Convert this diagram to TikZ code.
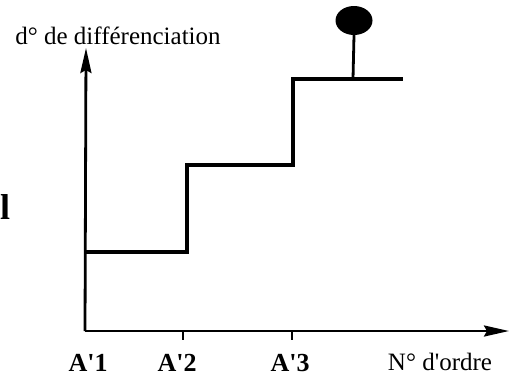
\documentclass[tikz,border=0pt]{standalone}
\usepackage{fontspec}
\setmainfont{Liberation Serif}[Ligatures=TeXOff]
\usetikzlibrary{arrows.meta,shapes.geometric}
\begin{document}
\begin{tikzpicture}[x=1pt,y=-1pt,
  axis/.style={line width=2.8pt,-{Stealth[length=25pt,width=11pt,inset=3pt]}},
  stair/.style={line width=3.3pt,line join=miter},
  tick/.style={line width=2.2pt},
  lbl/.style={font=\fontsize{25}{28}\selectfont,inner sep=0pt},
  blbl/.style={font=\bfseries\fontsize{26}{29}\selectfont,inner sep=0pt}]
\useasboundingbox (0,0) rectangle (516,381);
\coordinate (O) at (85,331);
\coordinate (ytop) at (86,48);
\coordinate (xend) at (509,331);
\draw[axis] (O) -- (ytop);
\draw[axis] (O) -- (xend);
\coordinate (t2) at (183,340);
\coordinate (t2b) at (183,331);
\coordinate (t3) at (292,340);
\coordinate (t3b) at (292,331);
\draw[tick] (t2b) -- (t2);
\draw[tick] (t3b) -- (t3);
\coordinate (s0) at (85,252);
\coordinate (s1) at (187,252);
\coordinate (s2) at (187,165);
\coordinate (s3) at (293,165);
\coordinate (s4) at (293,79);
\coordinate (s5) at (403,79);
\draw[stair] (s0) -- (s1) -- (s2) -- (s3) -- (s4) -- (s5);
\node[fill=black,ellipse,minimum width=37pt,minimum height=29pt,inner sep=0pt] (pin) at (354,20.5) {};
\coordinate (pb) at (353,79);
\draw[line width=2.8pt] (pb) -- (pin.south);
\node[lbl] (ylab) at (118,36) {d° de différenciation};
\node[lbl] (xlab) at (440,362) {N° d'ordre};
\node[blbl] (a1) at (88,363) {A'1};
\node[blbl] (a2) at (177,363) {A'2};
\node[blbl] (a3) at (290,363) {A'3};
\node[blbl,font=\bfseries\fontsize{36}{40}\selectfont,anchor=west] (l) at (0,207) {l};
\end{tikzpicture}
\end{document}
